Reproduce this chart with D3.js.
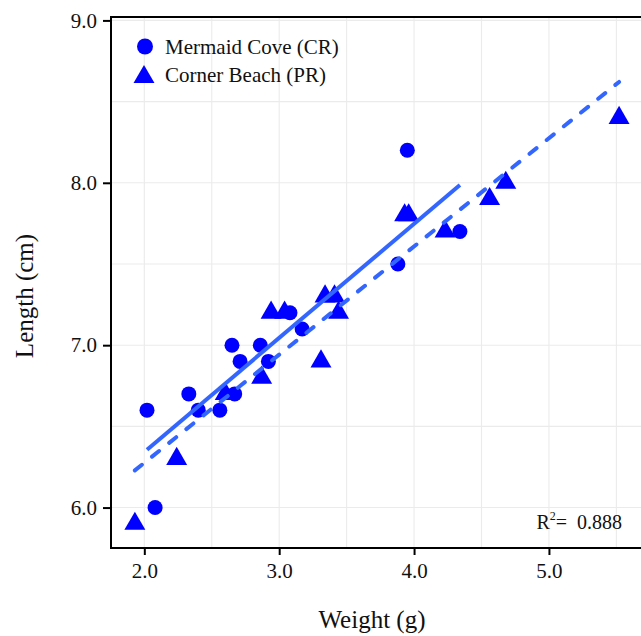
<!DOCTYPE html>
<html>
<head>
<meta charset="utf-8">
<script src="https://cdn.jsdelivr.net/npm/d3@7"></script>
<style>
  html, body { margin: 0; padding: 0; background: #ffffff; }
  svg { display: block; }
</style>
</head>
<body>
<svg id="chart" width="641" height="636"></svg>
<script>
// ---- data ----
const seriesNames = ["Mermaid Cove (CR)", "Corner Beach (PR)"];
const coveWeight = [2.02, 2.08, 2.33, 2.40, 2.56, 2.65, 2.67, 2.71, 2.86, 2.92, 3.08, 3.17, 3.88, 3.95, 4.34];
const coveLength = [6.6, 6.0, 6.7, 6.6, 6.6, 7.0, 6.7, 6.9, 7.0, 6.9, 7.2, 7.1, 7.5, 8.2, 7.7];
const beachWeight = [1.93, 2.24, 2.60, 2.87, 2.94, 3.04, 3.31, 3.34, 3.41, 3.44, 3.93, 3.96, 4.23, 4.56, 4.68, 5.52];
const beachLength = [5.9, 6.3, 6.7, 6.8, 7.2, 7.2, 6.9, 7.3, 7.3, 7.2, 7.8, 7.8, 7.7, 7.9, 8.0, 8.4];
const xTicks = [2.0, 3.0, 4.0, 5.0];
const yTicks = [6.0, 7.0, 8.0, 9.0];
const xGrid = [2.0, 2.5, 3.0, 3.5, 4.0, 4.5, 5.0, 5.5];
const yGrid = [6.0, 6.5, 7.0, 7.5, 8.0, 8.5, 9.0];
const xDomain = [1.753, 5.69];
const yDomain = [5.751, 9.021];
const r2Value = "0.888";
const xTitle = "Weight (g)";
const yTitle = "Length (cm)";

// ---- layout ----
const pLeft = 111, pRight = 642, pTop = 17, pBottom = 548;
const font = "'Liberation Serif', 'Times New Roman', serif";
const pointColor = "#0000ff";
const lineColor = "#3366ff";

const svg = d3.select("#chart");
const x = d3.scaleLinear().domain(xDomain).range([pLeft, pRight]);
const y = d3.scaleLinear().domain(yDomain).range([pBottom, pTop]);

// grid
const grid = svg.append("g");
grid.selectAll("line.vx").data(xGrid).enter().append("line")
  .attr("x1", d => x(d)).attr("x2", d => x(d))
  .attr("y1", pTop).attr("y2", pBottom)
  .attr("stroke", "#ebebeb").attr("stroke-width", 1.1);
grid.selectAll("line.hy").data(yGrid).enter().append("line")
  .attr("x1", pLeft).attr("x2", pRight)
  .attr("y1", d => y(d)).attr("y2", d => y(d))
  .attr("stroke", "#ebebeb").attr("stroke-width", 1.1);

// least-squares fit
function fit(xs, ys) {
  const mx = d3.mean(xs), my = d3.mean(ys);
  let sxy = 0, sxx = 0;
  xs.forEach((v, i) => { sxy += (v - mx) * (ys[i] - my); sxx += (v - mx) * (v - mx); });
  const b = sxy / sxx, a = my - b * mx;
  const x0 = d3.min(xs), x1 = d3.max(xs);
  return [[x0, a + b * x0], [x1, a + b * x1]];
}

const triangle = d3.symbol().type(d3.symbolTriangle).size(190);

const beach = beachWeight.map((w, i) => ({ w, l: beachLength[i] }));
const cove = coveWeight.map((w, i) => ({ w, l: coveLength[i] }));

svg.append("g").selectAll("path").data(beach).enter().append("path")
  .attr("d", triangle)
  .attr("transform", d => `translate(${x(d.w)},${y(d.l)})`)
  .attr("fill", pointColor);

svg.append("g").selectAll("circle").data(cove).enter().append("circle")
  .attr("cx", d => x(d.w)).attr("cy", d => y(d.l)).attr("r", 7.5)
  .attr("fill", pointColor);

// regression lines
const lineGen = d3.line().x(d => x(d[0])).y(d => y(d[1]));
svg.append("path").datum(fit(coveWeight, coveLength))
  .attr("d", lineGen).attr("fill", "none")
  .attr("stroke", lineColor).attr("stroke-width", 4);
svg.append("path").datum(fit(beachWeight, beachLength))
  .attr("d", lineGen).attr("fill", "none")
  .attr("stroke", lineColor).attr("stroke-width", 4)
  .attr("stroke-dasharray", "9,13").attr("stroke-linecap", "round");

// panel border
svg.append("rect").attr("x", pLeft).attr("y", pTop)
  .attr("width", pRight - pLeft).attr("height", pBottom - pTop)
  .attr("fill", "none").attr("stroke", "#000").attr("stroke-width", 2);

// axes
const xAxis = svg.append("g").attr("transform", `translate(0,${pBottom})`)
  .call(d3.axisBottom(x).tickValues(xTicks).tickFormat(d3.format(".1f")).tickSize(7).tickPadding(8));
const yAxis = svg.append("g").attr("transform", `translate(${pLeft},0)`)
  .call(d3.axisLeft(y).tickValues(yTicks).tickFormat(d3.format(".1f")).tickSize(8).tickPadding(6));
[xAxis, yAxis].forEach(g => {
  g.select(".domain").remove();
  g.selectAll(".tick line").attr("stroke", "#000").attr("stroke-width", 2);
  g.selectAll(".tick text").attr("font-family", font).attr("font-size", 21).attr("fill", "#111");
});

// axis titles
svg.append("text").attr("x", 372).attr("y", 628)
  .attr("text-anchor", "middle").attr("font-family", font).attr("font-size", 25)
  .attr("fill", "#111").text(xTitle);
svg.append("text").attr("transform", "translate(33,296) rotate(-90)")
  .attr("text-anchor", "middle").attr("font-family", font).attr("font-size", 25)
  .attr("fill", "#111").text(yTitle);

// legend
const legend = svg.append("g");
legend.append("circle").attr("cx", 145).attr("cy", 46.5).attr("r", 8).attr("fill", pointColor);
legend.append("path").attr("d", triangle)
  .attr("transform", "translate(144,77)").attr("fill", pointColor);
legend.selectAll("text").data(seriesNames).enter().append("text")
  .attr("x", 165).attr("y", (d, i) => 53.5 + i * 28)
  .attr("font-family", font).attr("font-size", 21).attr("fill", "#111")
  .text(d => d);

// R^2 annotation
const r2 = svg.append("text").attr("x", 622).attr("y", 529)
  .attr("text-anchor", "end").attr("font-family", font).attr("font-size", 20).attr("fill", "#111");
r2.append("tspan").text("R");
r2.append("tspan").attr("font-size", 12).attr("dy", -9).text("2");
r2.append("tspan").attr("dy", 9).text("=\u00a0\u00a0" + r2Value);
</script>
</body>
</html>
